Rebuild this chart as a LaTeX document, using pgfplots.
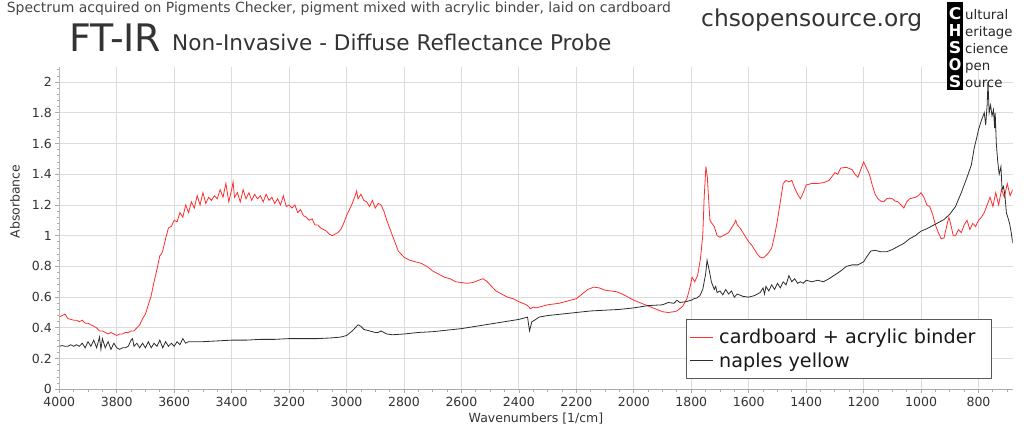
\documentclass[border=0pt]{standalone}
\usepackage{fontspec}
\setmainfont{DejaVu Sans}
\usepackage{graphicx}
\usepackage{pgfplots}
\pgfplotsset{compat=1.18}
\definecolor{redline}{RGB}{255,45,45}
\definecolor{blkline}{RGB}{45,45,45}
\definecolor{gridc}{RGB}{220,220,220}
\definecolor{axisc}{RGB}{170,170,170}
\definecolor{txt}{RGB}{51,51,51}
\definecolor{ttl}{RGB}{70,70,70}

\pgfplotstableread{
w v
4000 0.47
3990 0.48
3980 0.49
3970 0.46
3960 0.455
3950 0.45
3940 0.45
3930 0.44
3920 0.45
3910 0.43
3900 0.43
3890 0.42
3880 0.41
3870 0.40
3860 0.38
3850 0.38
3840 0.37
3830 0.36
3820 0.37
3810 0.36
3800 0.35
3790 0.36
3780 0.36
3770 0.37
3760 0.37
3750 0.38
3740 0.38
3730 0.40
3720 0.42
3710 0.46
3700 0.49
3690 0.55
3680 0.61
3670 0.70
3660 0.78
3650 0.87
3645 0.88
3640 0.90
3630 0.98
3620 1.05
3610 1.06
3600 1.10
3590 1.09
3580 1.15
3570 1.12
3560 1.20
3550 1.15
3540 1.22
3530 1.18
3520 1.26
3510 1.20
3500 1.28
3490 1.21
3480 1.25
3470 1.23
3460 1.26
3450 1.24
3440 1.30
3430 1.25
3420 1.34
3410 1.22
3400 1.30
3395 1.35
3390 1.25
3380 1.28
3370 1.22
3360 1.30
3350 1.24
3340 1.28
3330 1.23
3320 1.27
3310 1.24
3300 1.26
3290 1.22
3280 1.27
3270 1.23
3260 1.25
3250 1.21
3240 1.24
3230 1.20
3220 1.26
3210 1.19
3200 1.20
3190 1.18
3180 1.20
3170 1.15
3160 1.17
3150 1.13
3140 1.12
3130 1.10
3120 1.11
3110 1.07
3100 1.07
3090 1.05
3080 1.04
3070 1.03
3060 1.01
3050 1.00
3040 1.01
3030 1.02
3020 1.04
3010 1.08
3000 1.13
2990 1.17
2980 1.21
2970 1.26
2965 1.29
2960 1.24
2950 1.27
2940 1.23
2930 1.22
2920 1.19
2910 1.23
2900 1.18
2890 1.21
2880 1.20
2870 1.16
2860 1.10
2850 1.05
2840 1.00
2830 0.95
2820 0.90
2810 0.88
2800 0.86
2780 0.84
2760 0.83
2740 0.82
2720 0.80
2700 0.77
2680 0.75
2660 0.73
2640 0.72
2620 0.70
2600 0.695
2580 0.69
2560 0.695
2540 0.71
2525 0.72
2510 0.70
2500 0.68
2480 0.64
2460 0.62
2440 0.60
2420 0.59
2400 0.57
2380 0.555
2370 0.545
2360 0.525
2350 0.535
2340 0.53
2320 0.54
2300 0.55
2280 0.555
2260 0.56
2240 0.57
2220 0.58
2200 0.59
2180 0.62
2160 0.65
2140 0.665
2120 0.66
2100 0.645
2080 0.64
2060 0.635
2040 0.62
2020 0.60
2000 0.58
1980 0.565
1960 0.55
1940 0.535
1920 0.52
1900 0.505
1880 0.50
1860 0.505
1850 0.51
1830 0.54
1815 0.59
1805 0.66
1797 0.73
1788 0.70
1778 0.74
1768 0.85
1760 1.00
1755 1.25
1749 1.45
1744 1.38
1740 1.25
1735 1.10
1728 1.08
1720 1.06
1710 1.00
1700 0.99
1690 1.00
1680 1.01
1670 1.02
1660 1.05
1650 1.08
1645 1.10
1640 1.07
1630 1.05
1620 1.02
1610 0.99
1600 0.96
1590 0.94
1580 0.91
1570 0.88
1560 0.86
1550 0.855
1540 0.87
1530 0.89
1520 0.92
1510 1.00
1500 1.10
1490 1.22
1480 1.34
1470 1.36
1460 1.35
1450 1.36
1440 1.31
1430 1.27
1420 1.24
1410 1.28
1400 1.33
1380 1.34
1360 1.34
1340 1.345
1320 1.36
1300 1.41
1290 1.40
1280 1.44
1260 1.445
1240 1.43
1230 1.40
1220 1.38
1210 1.43
1200 1.48
1190 1.44
1180 1.40
1170 1.33
1160 1.27
1150 1.24
1140 1.225
1130 1.22
1120 1.24
1110 1.245
1100 1.24
1090 1.225
1080 1.22
1070 1.20
1060 1.18
1050 1.22
1040 1.24
1020 1.25
1010 1.26
1000 1.28
990 1.25
980 1.20
970 1.19
960 1.14
950 1.07
940 1.02
930 0.98
920 0.985
910 1.07
903 1.12
895 1.06
888 1.00
880 1.00
870 1.04
860 1.02
850 1.07
840 1.10
830 1.04
820 1.08
810 1.06
800 1.10
790 1.12
780 1.15
770 1.20
760 1.25
750 1.19
740 1.28
730 1.20
720 1.30
710 1.25
700 1.34
690 1.26
681 1.30
}\cardboard

\pgfplotstableread{
w v
4000 0.28
3990 0.285
3980 0.28
3970 0.28
3960 0.29
3950 0.28
3940 0.29
3930 0.28
3920 0.30
3910 0.27
3900 0.31
3890 0.28
3880 0.32
3870 0.27
3860 0.34
3855 0.26
3850 0.33
3840 0.27
3830 0.31
3820 0.26
3810 0.30
3800 0.27
3790 0.26
3780 0.27
3770 0.27
3760 0.28
3750 0.32
3745 0.33
3740 0.28
3730 0.30
3720 0.27
3710 0.30
3700 0.27
3690 0.31
3680 0.27
3670 0.30
3660 0.28
3650 0.32
3640 0.27
3630 0.31
3620 0.28
3610 0.30
3600 0.28
3590 0.31
3580 0.29
3570 0.33
3560 0.30
3550 0.31
3500 0.31
3450 0.315
3400 0.32
3350 0.32
3300 0.325
3250 0.325
3200 0.33
3150 0.33
3100 0.33
3050 0.335
3020 0.34
3000 0.35
2980 0.38
2970 0.40
2960 0.42
2950 0.41
2940 0.39
2920 0.38
2900 0.37
2890 0.37
2880 0.38
2870 0.37
2860 0.36
2840 0.355
2800 0.36
2750 0.37
2700 0.375
2650 0.385
2600 0.395
2550 0.41
2500 0.425
2450 0.44
2400 0.455
2380 0.465
2370 0.47
2363 0.38
2355 0.44
2345 0.45
2330 0.47
2300 0.48
2250 0.49
2200 0.50
2150 0.51
2100 0.515
2050 0.52
2000 0.53
1950 0.545
1900 0.55
1880 0.565
1860 0.56
1850 0.58
1840 0.565
1820 0.57
1800 0.58
1790 0.59
1780 0.595
1770 0.61
1760 0.65
1750 0.75
1745 0.84
1738 0.78
1730 0.70
1720 0.65
1715 0.67
1710 0.63
1700 0.64
1690 0.615
1680 0.65
1670 0.62
1660 0.64
1650 0.60
1640 0.62
1620 0.605
1600 0.60
1580 0.61
1560 0.63
1550 0.66
1545 0.62
1540 0.67
1530 0.64
1520 0.68
1510 0.65
1500 0.69
1490 0.66
1480 0.70
1470 0.68
1460 0.74
1450 0.70
1440 0.72
1430 0.69
1420 0.70
1410 0.69
1400 0.71
1380 0.70
1360 0.71
1340 0.70
1320 0.72
1300 0.745
1280 0.77
1260 0.80
1240 0.81
1220 0.81
1200 0.83
1190 0.86
1175 0.90
1160 0.905
1140 0.895
1120 0.895
1100 0.91
1080 0.93
1060 0.95
1040 0.98
1020 1.00
1000 1.03
980 1.045
960 1.065
940 1.085
920 1.105
900 1.14
880 1.19
860 1.28
840 1.38
825 1.46
815 1.57
806 1.64
800 1.69
790 1.75
780 1.80
775 1.72
770 1.85
767 2.00
763 1.80
758 1.85
753 1.78
748 1.82
744 1.70
742 1.80
738 1.60
733 1.48
728 1.40
722 1.45
718 1.30
713 1.32
708 1.26
703 1.15
698 1.12
692 1.08
687 1.03
681 0.95
}\naples

\begin{document}
\begin{tikzpicture}[x=1pt,y=1pt]
\useasboundingbox (0,0) rectangle (1024,436);
\begin{axis}[
  at={(59.3pt,46.7pt)}, anchor=south west,
  scale only axis, width=953.4pt, height=322.6pt,
  x dir=reverse, xmin=681, xmax=4000, ymin=0, ymax=2.1,
  xtick={600,800,...,4000},
  ytick={0,0.2,0.4,0.6,0.8,1,1.2,1.4,1.6,1.8,2,2.2},
  minor x tick num=3, minor y tick num=4,
  grid=major, major grid style={gridc, line width=0.9pt},
  axis line style={draw=none},
  tick style={axisc, line width=0.8pt},
  tick align=outside, major tick length=4pt, minor tick length=2.5pt,
  xtick pos=bottom, ytick pos=left,
  /pgf/number format/assume math mode=true,
  /pgf/number format/1000 sep={},
  ticklabel style={font=\fontsize{12.5}{15}\selectfont, text=txt},
  xlabel={Wavenumbers [1/cm]}, ylabel={Absorbance},
  label style={font=\fontsize{12.5}{15}\selectfont, text=txt},
  xlabel style={at={(axis description cs:0.5,-0.1035)}, anchor=base},
  ylabel style={at={(axis description cs:-0.0465,0.582)}, anchor=center},
  legend style={at={(axis description cs:0.6573,0.0319)}, anchor=south west,
    draw=black!65, fill=white, line width=0.9pt,
    font=\fontsize{19.2}{22}\selectfont, text=black!90,
    inner xsep=3pt, inner ysep=8pt, row sep=3pt,
    cells={anchor=west}},
  legend image code/.code={\draw[#1, line width=0.8pt] (0pt,0pt) -- (23pt,0pt); \path (27pt,0pt);},
]
\addplot[redline, line width=0.8pt] table[x=w,y=v] {\cardboard};
\addlegendentry{\makebox[267pt][l]{cardboard + acrylic binder}}
\addplot[blkline, line width=0.8pt] table[x=w,y=v] {\naples};
\addlegendentry{naples yellow}
\draw[axisc, line width=0.9pt] (axis description cs:0,1) -- (axis description cs:0,0) -- (axis description cs:1,0);
\end{axis}
% titles
\node[anchor=base west, inner sep=0, text=ttl] at (6.6,436-12.5) {\resizebox{664pt}{!}{Spectrum acquired on Pigments Checker, pigment mixed with acrylic binder, laid on cardboard}};
\node[anchor=base west, inner sep=0, text=txt] at (69,436-51.7) {\resizebox{92pt}{!}{FT-IR}};
\node[anchor=base west, inner sep=0, text=txt] at (172,436-50.5) {\resizebox{439pt}{!}{Non-Invasive - Diffuse Reflectance Probe}};
\node[anchor=base west, inner sep=0, text=txt] at (701,436-26.7) {\resizebox{221pt}{!}{chsopensource.org}};
% logo
\fill[black] (946.7,436-90) rectangle (963.3,436-1.7);
\foreach \l/\b in {C/20,H/36.8,S/53.6,O/70.4,S/87.2}{
  \node[anchor=base, inner sep=0, text=white] at (955,436-\b) {\resizebox{12.5pt}{12pt}{\bfseries \l}};
}
\foreach \t/\b in {ultural/20,eritage/36.8,cience/53.6,pen/70.4,ource/87.2}{
  \node[anchor=base west, inner sep=0, text=black!85, font=\fontsize{13.3}{15}\selectfont] at (965,436-\b) {\t};
}
\end{tikzpicture}
\end{document}
